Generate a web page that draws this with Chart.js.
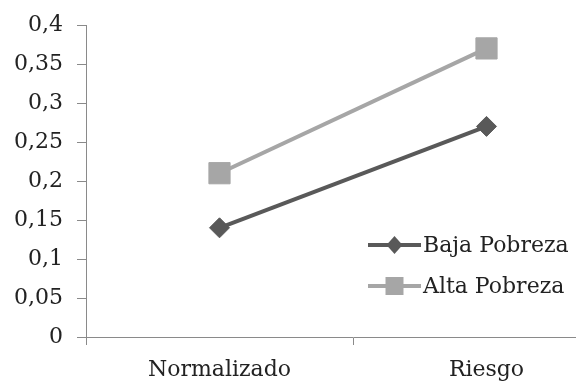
<!DOCTYPE html>
<html>
<head>
<meta charset="utf-8">
<script src="https://cdn.jsdelivr.net/npm/chart.js@4.4.1/dist/chart.umd.min.js"></script>
<style>
  html, body { margin: 0; padding: 0; background: #fff; overflow: hidden; width: 576px; height: 382px; }
  #wrap { width: 640px; height: 382px; }
</style>
</head>
<body>
<div id="wrap"><canvas id="c" width="640" height="382"></canvas></div>
<script>
// Categories and series
const categories = ['Normalizado', 'Riesgo'];
const bajaPobreza = [0.14, 0.27];
const altaPobreza = [0.21, 0.37];
const yTickLabels = ['0', '0,05', '0,1', '0,15', '0,2', '0,25', '0,3', '0,35', '0,4'];

const FONT = '"DejaVu Serif", serif';
const TEXT = '#222222';
const AXIS = '#8a8a8a';
const DARK = '#595959';
const LIGHT = '#a6a6a6';

const series = [
  { label: 'Baja Pobreza', data: bajaPobreza, color: DARK, style: 'rectRot', radius: 10 },
  { label: 'Alta Pobreza', data: altaPobreza, color: LIGHT, style: 'rect', radius: 15 }
];

// Legend drawn inside the plot area, lower right
const insideLegend = {
  id: 'insideLegend',
  afterDraw(chart) {
    const ctx = chart.ctx;
    const a = chart.chartArea;
    const x0 = a.left + 282, x1 = a.left + 335, tx = a.left + 337;
    const rows = [a.bottom - 92, a.bottom - 51];
    ctx.save();
    series.forEach((s, i) => {
      const y = rows[i];
      ctx.strokeStyle = s.color;
      ctx.lineWidth = 4;
      ctx.beginPath();
      ctx.moveTo(x0, y);
      ctx.lineTo(x1, y);
      ctx.stroke();
      const cx = (x0 + x1) / 2;
      ctx.fillStyle = s.color;
      ctx.beginPath();
      if (s.style === 'rect') {
        ctx.rect(cx - 9, y - 9, 18, 18);
      } else {
        ctx.moveTo(cx, y - 9);
        ctx.lineTo(cx + 8, y);
        ctx.lineTo(cx, y + 9);
        ctx.lineTo(cx - 8, y);
        ctx.closePath();
      }
      ctx.fill();
      ctx.fillStyle = TEXT;
      ctx.font = '22px ' + FONT;
      ctx.textBaseline = 'middle';
      ctx.textAlign = 'left';
      ctx.fillText(s.label, tx, y + 1);
    });
    ctx.restore();
  }
};

new Chart(document.getElementById('c'), {
  type: 'line',
  data: {
    labels: categories,
    datasets: series.map(s => ({
      label: s.label,
      data: s.data,
      borderColor: s.color,
      backgroundColor: s.color,
      borderWidth: 4,
      pointStyle: s.style,
      pointRadius: s.radius,
      pointHoverRadius: s.radius,
      pointBorderWidth: 1,
      tension: 0,
      fill: false
    }))
  },
  options: {
    responsive: false,
    animation: false,
    events: [],
    layout: { padding: { top: 21, right: 20, bottom: 0, left: 0 } },
    plugins: { legend: { display: false }, tooltip: { enabled: false } },
    scales: {
      x: {
        type: 'category',
        offset: true,
        border: { color: AXIS, width: 1 },
        grid: { offset: true, drawOnChartArea: false, drawTicks: true, tickLength: 8, color: AXIS },
        ticks: { color: TEXT, font: { family: FONT, size: 22 }, padding: 12, maxRotation: 0 },
        afterFit(scale) { scale.height = 45; }
      },
      y: {
        min: 0,
        max: 0.4,
        border: { color: AXIS, width: 1 },
        grid: { drawOnChartArea: false, drawTicks: true, tickLength: 9, color: AXIS },
        ticks: {
          stepSize: 0.05,
          color: TEXT,
          font: { family: FONT, size: 22, lineHeight: 1 },
          padding: 14,
          callback: (v, i) => yTickLabels[i]
        },
        afterFit(scale) { scale.width = 86; }
      }
    }
  },
  plugins: [insideLegend]
});
</script>
</body>
</html>
